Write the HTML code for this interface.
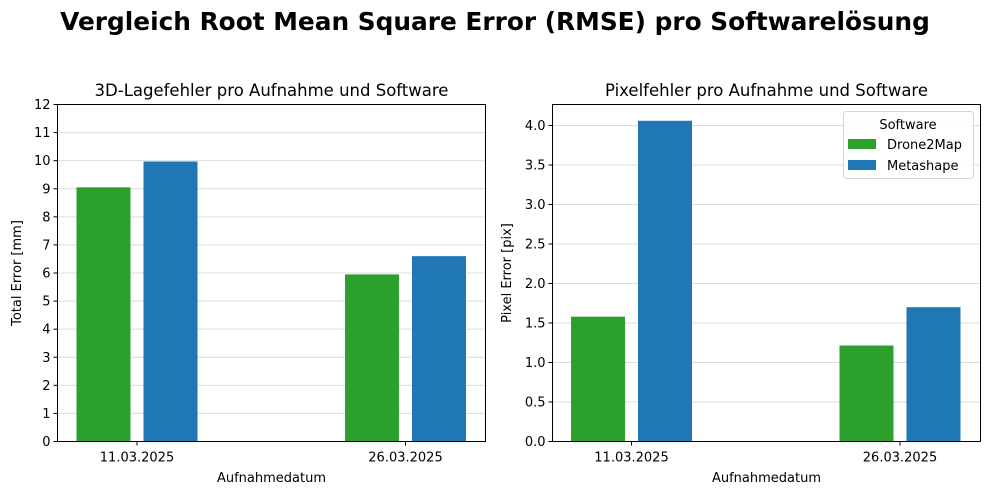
<!DOCTYPE html>
<html><head><meta charset="utf-8"><style>
body{margin:0;background:#fff;font-family:"DejaVu Sans",sans-serif}
svg text{font-family:"DejaVu Sans",sans-serif;fill:#000}
</style></head><body>
<svg width="989" height="495" id="fig">
<text x="495" y="30" text-anchor="middle" font-size="24.8" font-weight="bold">Vergleich Root Mean Square Error (RMSE) pro Softwarelösung</text>
</svg>
<script>
const categories=["11.03.2025","26.03.2025"];
const seriesNames=["Drone2Map","Metashape"];
const colors=["#2ca02c","#1f77b4"];
const posErrD2M=[9.05,5.95];
const posErrMeta=[9.97,6.6];
const pixErrD2M=[1.58,1.215];
const pixErrMeta=[4.06,1.70];
const leftTicks=[0,1,2,3,4,5,6,7,8,9,10,11,12];
const rightTicks=[0,0.5,1,1.5,2,2.5,3,3.5,4];
const rightTickLabels=["0.0","0.5","1.0","1.5","2.0","2.5","3.0","3.5","4.0"];
const NS="http://www.w3.org/2000/svg";
const svg=document.getElementById('fig');
function mk(t,a,p){const e=document.createElementNS(NS,t);for(const k in a)e.setAttribute(k,a[k]);(p||svg).appendChild(e);return e;}
function panel(o){
  const g=mk('g',{});
  
  
  const x0=o.x0,x1=o.x1,yT=104.5,yB=441.5;
  const ys=v=>yB-(v/o.ymax)*(yB-yT);
  const xs=i=>o.c0+i*268.5;
  o.ticks.forEach((t,i)=>{
    const y=ys(t);
    if(t>0){const l=mk('line',{x1:x0,x2:x1,y1:y,y2:y,stroke:'#dcdcdc','stroke-width':1},g);
    }
    mk('line',{x1:x0-4,x2:x0,y1:y,y2:y,stroke:'#000'},g);
    const tx=mk('text',{x:x0-7,y:y+4.5,'text-anchor':'end','font-size':13},g);
    tx.textContent=o.labels[i];
    
  });
  [o.a,o.b].forEach((arr,s)=>{
    arr.forEach((v,i)=>{
      const cx=xs(i)+(s?33.5:-33.5);
      const r=mk('rect',{x:cx-27,y:ys(v),width:54,height:yB-ys(v),fill:colors[s]},g);
      
      
    });
  });
  categories.forEach((c,i)=>{
    mk('line',{x1:xs(i),x2:xs(i),y1:yB,y2:yB+4,stroke:'#000'},g);
    const t=mk('text',{x:xs(i),y:yB+20,'text-anchor':'middle','font-size':13},g);
    t.textContent=c;
  });
  const fr=mk('rect',{x:x0,y:yT,width:x1-x0,height:yB-yT,fill:'none',stroke:'#000','stroke-width':1},g);
  
  const ti=mk('text',{x:(x0+x1)/2,y:96,'text-anchor':'middle','font-size':16.5},g);
  ti.textContent=o.title;
  const xl=mk('text',{x:(x0+x1)/2,y:482,'text-anchor':'middle','font-size':13},g);
  xl.textContent='Aufnahmedatum';
  const yl=mk('text',{x:0,y:0,'text-anchor':'middle','font-size':13,transform:`translate(${o.ylx},${(yT+yB)/2}) rotate(-90)`},g);
  yl.textContent=o.ytitle;
}
panel({name:'position-error-panel',x0:57.5,x1:485.5,c0:137,ymax:12,ticks:leftTicks,labels:leftTicks.map(String),a:posErrD2M,b:posErrMeta,title:'3D-Lagefehler pro Aufnahme und Software',ytitle:'Total Error [mm]',ylx:21});
panel({name:'pixel-error-panel',x0:552.5,x1:980.5,c0:631.5,ymax:337/79,ticks:rightTicks,labels:rightTickLabels,a:pixErrD2M,b:pixErrMeta,title:'Pixelfehler pro Aufnahme und Software',ytitle:'Pixel Error [pix]',ylx:511});
const lg=mk('g',{});


mk('rect',{x:843.5,y:111.5,width:130,height:67,rx:3,fill:'#fff','fill-opacity':0.85,stroke:'#d6d6d6'},lg);
const lt=mk('text',{x:908,y:129,'text-anchor':'middle','font-size':13},lg);lt.textContent='Software';
seriesNames.forEach((n,i)=>{
  const y=139+i*21;
  const p=mk('rect',{x:848,y:y,width:28,height:10,fill:colors[i]},lg);
  
  
  const t=mk('text',{x:887,y:y+10,'font-size':13},lg);t.textContent=n;
});
</script>
</body></html>
